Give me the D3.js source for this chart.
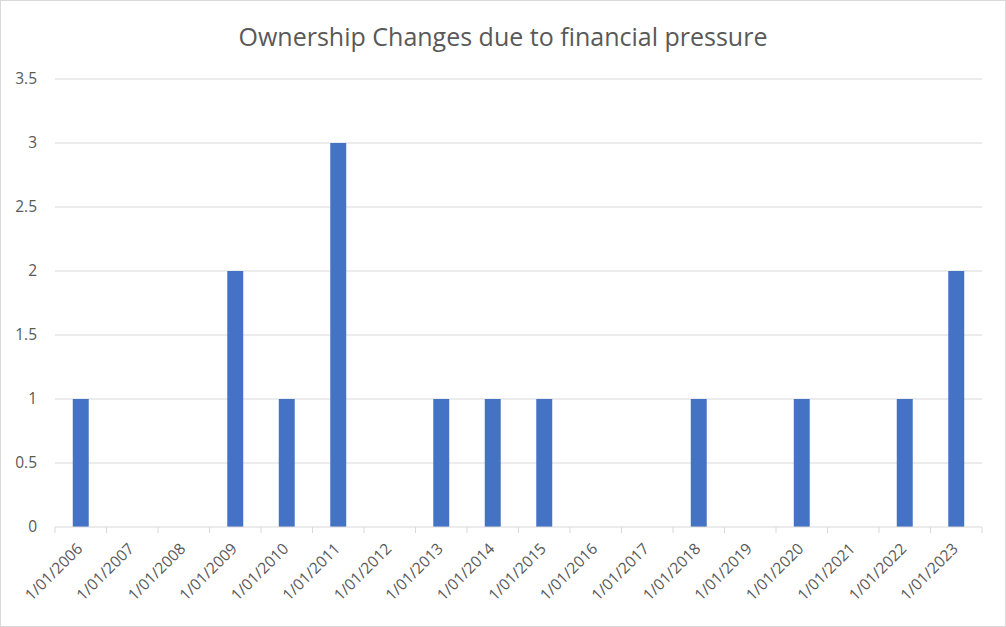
<!DOCTYPE html>
<html><head><meta charset="utf-8">
<script src="https://cdn.jsdelivr.net/npm/d3@7"></script>
<style>body{margin:0;background:#fff}svg{display:block}</style>
</head><body>
<script>
const title = "Ownership Changes due to financial pressure";
const categories = ["1/01/2006","1/01/2007","1/01/2008","1/01/2009","1/01/2010","1/01/2011","1/01/2012","1/01/2013","1/01/2014","1/01/2015","1/01/2016","1/01/2017","1/01/2018","1/01/2019","1/01/2020","1/01/2021","1/01/2022","1/01/2023"];
const values = [1,0,0,2,1,3,0,1,1,1,0,0,1,0,1,0,1,2];
const yTicks = [0,0.5,1,1.5,2,2.5,3,3.5];

const W = 1006, H = 627;
const m = {left:55, right:24, top:79, bottom:100};
const font = "'Open Sans', 'Liberation Sans', sans-serif";
const svg = d3.select("body").append("svg").attr("width",W).attr("height",H);
svg.append("rect").attr("x",0.5).attr("y",0.5).attr("width",W-1).attr("height",H-1)
  .attr("fill","#fff").attr("stroke","#d9d9d9");

const x = d3.scaleBand().domain(categories).range([m.left, W-m.right]).paddingInner(0.69).paddingOuter(0.345);
const y = d3.scaleLinear().domain([0,3.5]).range([H-m.bottom, m.top]);

svg.append("text").attr("x",503).attr("y",46).attr("text-anchor","middle")
  .attr("font-family",font).attr("font-size",25).attr("fill","#595959").text(title);

// gridlines
svg.append("g").selectAll("line").data(yTicks.filter(d=>d>0)).join("line")
  .attr("x1",m.left).attr("x2",W-m.right).attr("y1",d=>y(d)).attr("y2",d=>y(d))
  .attr("stroke","#d9d9d9").attr("stroke-width",1);

// y labels
svg.append("g").selectAll("text").data(yTicks).join("text")
  .attr("x",37).attr("y",d=>y(d)).attr("dy","0.35em").attr("text-anchor","end")
  .attr("font-family",font).attr("font-size",15.5).attr("fill","#595959").text(d=>d);

// bars
svg.append("g").selectAll("rect").data(categories).join("rect")
  .attr("x",d=>x(d)).attr("width",x.bandwidth())
  .attr("y",(d,i)=>y(values[i])).attr("height",(d,i)=>y(0)-y(values[i]))
  .attr("fill","#4472c4");

// x axis
const step = x.step();
const xa = svg.append("g");
xa.append("line").attr("x1",m.left).attr("x2",W-m.right).attr("y1",y(0)).attr("y2",y(0)).attr("stroke","#d9d9d9");
const bounds = categories.map((c,i)=>m.left+i*step).concat([W-m.right]);
xa.selectAll("line.t").data(bounds).join("line").attr("class","t")
  .attr("x1",d=>d).attr("x2",d=>d).attr("y1",y(0)).attr("y2",y(0)+6).attr("stroke","#d9d9d9");
xa.selectAll("text").data(categories).join("text")
  .attr("transform",d=>`translate(${x(d)+x.bandwidth()/2-5},${y(0)+15}) rotate(-45)`)
  .attr("text-anchor","end").attr("dy","0.7em")
  .attr("font-family",font).attr("font-size",15.5).attr("fill","#595959").text(d=>d);
</script>
</body></html>
